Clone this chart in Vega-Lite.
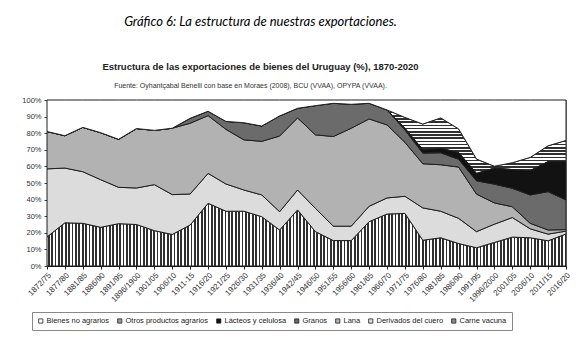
{
  "$schema": "https://vega.github.io/schema/vega-lite/v6.json",
  "width": 519,
  "height": 166,
  "autosize": {"type": "none"},
  "padding": {"left": 47, "top": 100, "right": 13, "bottom": 88},
  "background": "white",
  "config": {
    "view": {"stroke": "#8c8c8c", "strokeWidth": 1},
    "font": "Liberation Sans"
  },
  "title": {
    "text": "Gráfico 6: La estructura de nuestras exportaciones.",
    "subtitle": "Estructura de las exportaciones de bienes del Uruguay (%), 1870-2020",
    "font": "Lato",
    "fontStyle": "italic",
    "fontWeight": "normal",
    "fontSize": 13,
    "color": "#000000",
    "subtitleFont": "Liberation Sans",
    "subtitleFontSize": 9.5,
    "subtitleFontWeight": "bold",
    "subtitleColor": "#222222",
    "subtitlePadding": 33,
    "anchor": "middle",
    "frame": "group",
    "dx": -46,
    "offset": 10
  },
  "data": {
    "values": [
      {"p": "1872/75", "s": "Carne vacuna", "v": 17.5}, {"p": "1872/75", "s": "Derivados del cuero", "v": 41}, {"p": "1872/75", "s": "Lana", "v": 22.5}, {"p": "1872/75", "s": "Granos", "v": 0}, {"p": "1872/75", "s": "Lácteos y celulosa", "v": 0}, {"p": "1872/75", "s": "Otros productos agrarios", "v": 0}, {"p": "1872/75", "s": "Bienes no agrarios", "v": 19},
      {"p": "1877/80", "s": "Carne vacuna", "v": 26}, {"p": "1877/80", "s": "Derivados del cuero", "v": 33}, {"p": "1877/80", "s": "Lana", "v": 19.5}, {"p": "1877/80", "s": "Granos", "v": 0}, {"p": "1877/80", "s": "Lácteos y celulosa", "v": 0}, {"p": "1877/80", "s": "Otros productos agrarios", "v": 0}, {"p": "1877/80", "s": "Bienes no agrarios", "v": 21.5},
      {"p": "1881/85", "s": "Carne vacuna", "v": 25.7}, {"p": "1881/85", "s": "Derivados del cuero", "v": 31.1}, {"p": "1881/85", "s": "Lana", "v": 26.7}, {"p": "1881/85", "s": "Granos", "v": 0}, {"p": "1881/85", "s": "Lácteos y celulosa", "v": 0}, {"p": "1881/85", "s": "Otros productos agrarios", "v": 0}, {"p": "1881/85", "s": "Bienes no agrarios", "v": 16.5},
      {"p": "1886/90", "s": "Carne vacuna", "v": 23.3}, {"p": "1886/90", "s": "Derivados del cuero", "v": 28.7}, {"p": "1886/90", "s": "Lana", "v": 28.3}, {"p": "1886/90", "s": "Granos", "v": 0}, {"p": "1886/90", "s": "Lácteos y celulosa", "v": 0}, {"p": "1886/90", "s": "Otros productos agrarios", "v": 0}, {"p": "1886/90", "s": "Bienes no agrarios", "v": 19.7},
      {"p": "1891/95", "s": "Carne vacuna", "v": 25.5}, {"p": "1891/95", "s": "Derivados del cuero", "v": 21.9}, {"p": "1891/95", "s": "Lana", "v": 28.9}, {"p": "1891/95", "s": "Granos", "v": 0}, {"p": "1891/95", "s": "Lácteos y celulosa", "v": 0}, {"p": "1891/95", "s": "Otros productos agrarios", "v": 0}, {"p": "1891/95", "s": "Bienes no agrarios", "v": 23.7},
      {"p": "1896/1900", "s": "Carne vacuna", "v": 25}, {"p": "1896/1900", "s": "Derivados del cuero", "v": 22}, {"p": "1896/1900", "s": "Lana", "v": 35.8}, {"p": "1896/1900", "s": "Granos", "v": 0}, {"p": "1896/1900", "s": "Lácteos y celulosa", "v": 0}, {"p": "1896/1900", "s": "Otros productos agrarios", "v": 0}, {"p": "1896/1900", "s": "Bienes no agrarios", "v": 17.2},
      {"p": "1901/05", "s": "Carne vacuna", "v": 21.3}, {"p": "1901/05", "s": "Derivados del cuero", "v": 27.7}, {"p": "1901/05", "s": "Lana", "v": 32.7}, {"p": "1901/05", "s": "Granos", "v": 0}, {"p": "1901/05", "s": "Lácteos y celulosa", "v": 0}, {"p": "1901/05", "s": "Otros productos agrarios", "v": 0}, {"p": "1901/05", "s": "Bienes no agrarios", "v": 18.3},
      {"p": "1906/10", "s": "Carne vacuna", "v": 19}, {"p": "1906/10", "s": "Derivados del cuero", "v": 24}, {"p": "1906/10", "s": "Lana", "v": 40}, {"p": "1906/10", "s": "Granos", "v": 0}, {"p": "1906/10", "s": "Lácteos y celulosa", "v": 0}, {"p": "1906/10", "s": "Otros productos agrarios", "v": 0}, {"p": "1906/10", "s": "Bienes no agrarios", "v": 17},
      {"p": "1911-15", "s": "Carne vacuna", "v": 24.7}, {"p": "1911-15", "s": "Derivados del cuero", "v": 18.7}, {"p": "1911-15", "s": "Lana", "v": 42.6}, {"p": "1911-15", "s": "Granos", "v": 3}, {"p": "1911-15", "s": "Lácteos y celulosa", "v": 0}, {"p": "1911-15", "s": "Otros productos agrarios", "v": 0}, {"p": "1911-15", "s": "Bienes no agrarios", "v": 11},
      {"p": "1916/20", "s": "Carne vacuna", "v": 37.8}, {"p": "1916/20", "s": "Derivados del cuero", "v": 18}, {"p": "1916/20", "s": "Lana", "v": 34.8}, {"p": "1916/20", "s": "Granos", "v": 2.6}, {"p": "1916/20", "s": "Lácteos y celulosa", "v": 0}, {"p": "1916/20", "s": "Otros productos agrarios", "v": 0}, {"p": "1916/20", "s": "Bienes no agrarios", "v": 6.8},
      {"p": "1921/25", "s": "Carne vacuna", "v": 33}, {"p": "1921/25", "s": "Derivados del cuero", "v": 16.4}, {"p": "1921/25", "s": "Lana", "v": 32.9}, {"p": "1921/25", "s": "Granos", "v": 4.8}, {"p": "1921/25", "s": "Lácteos y celulosa", "v": 0}, {"p": "1921/25", "s": "Otros productos agrarios", "v": 0}, {"p": "1921/25", "s": "Bienes no agrarios", "v": 12.9},
      {"p": "1926/30", "s": "Carne vacuna", "v": 33}, {"p": "1926/30", "s": "Derivados del cuero", "v": 12.8}, {"p": "1926/30", "s": "Lana", "v": 30.2}, {"p": "1926/30", "s": "Granos", "v": 10.3}, {"p": "1926/30", "s": "Lácteos y celulosa", "v": 0}, {"p": "1926/30", "s": "Otros productos agrarios", "v": 0}, {"p": "1926/30", "s": "Bienes no agrarios", "v": 13.7},
      {"p": "1931/35", "s": "Carne vacuna", "v": 29.7}, {"p": "1931/35", "s": "Derivados del cuero", "v": 13.1}, {"p": "1931/35", "s": "Lana", "v": 32.3}, {"p": "1931/35", "s": "Granos", "v": 9.2}, {"p": "1931/35", "s": "Lácteos y celulosa", "v": 0}, {"p": "1931/35", "s": "Otros productos agrarios", "v": 0}, {"p": "1931/35", "s": "Bienes no agrarios", "v": 15.7},
      {"p": "1936/40", "s": "Carne vacuna", "v": 21.7}, {"p": "1936/40", "s": "Derivados del cuero", "v": 11}, {"p": "1936/40", "s": "Lana", "v": 45.6}, {"p": "1936/40", "s": "Granos", "v": 12.1}, {"p": "1936/40", "s": "Lácteos y celulosa", "v": 0}, {"p": "1936/40", "s": "Otros productos agrarios", "v": 0}, {"p": "1936/40", "s": "Bienes no agrarios", "v": 9.6},
      {"p": "1942/45", "s": "Carne vacuna", "v": 33.8}, {"p": "1942/45", "s": "Derivados del cuero", "v": 12}, {"p": "1942/45", "s": "Lana", "v": 43.4}, {"p": "1942/45", "s": "Granos", "v": 5.8}, {"p": "1942/45", "s": "Lácteos y celulosa", "v": 0}, {"p": "1942/45", "s": "Otros productos agrarios", "v": 0}, {"p": "1942/45", "s": "Bienes no agrarios", "v": 5},
      {"p": "1946/50", "s": "Carne vacuna", "v": 20.7}, {"p": "1946/50", "s": "Derivados del cuero", "v": 14}, {"p": "1946/50", "s": "Lana", "v": 44.3}, {"p": "1946/50", "s": "Granos", "v": 17.6}, {"p": "1946/50", "s": "Lácteos y celulosa", "v": 0}, {"p": "1946/50", "s": "Otros productos agrarios", "v": 0}, {"p": "1946/50", "s": "Bienes no agrarios", "v": 3.4},
      {"p": "1951/55", "s": "Carne vacuna", "v": 15.3}, {"p": "1951/55", "s": "Derivados del cuero", "v": 8.7}, {"p": "1951/55", "s": "Lana", "v": 54}, {"p": "1951/55", "s": "Granos", "v": 20}, {"p": "1951/55", "s": "Lácteos y celulosa", "v": 0}, {"p": "1951/55", "s": "Otros productos agrarios", "v": 0}, {"p": "1951/55", "s": "Bienes no agrarios", "v": 2},
      {"p": "1956/60", "s": "Carne vacuna", "v": 15.3}, {"p": "1956/60", "s": "Derivados del cuero", "v": 8.7}, {"p": "1956/60", "s": "Lana", "v": 59}, {"p": "1956/60", "s": "Granos", "v": 14.4}, {"p": "1956/60", "s": "Lácteos y celulosa", "v": 0}, {"p": "1956/60", "s": "Otros productos agrarios", "v": 0}, {"p": "1956/60", "s": "Bienes no agrarios", "v": 2.6},
      {"p": "1961/65", "s": "Carne vacuna", "v": 26.7}, {"p": "1961/65", "s": "Derivados del cuero", "v": 9.3}, {"p": "1961/65", "s": "Lana", "v": 52.6}, {"p": "1961/65", "s": "Granos", "v": 9.4}, {"p": "1961/65", "s": "Lácteos y celulosa", "v": 0}, {"p": "1961/65", "s": "Otros productos agrarios", "v": 0}, {"p": "1961/65", "s": "Bienes no agrarios", "v": 2},
      {"p": "1966/70", "s": "Carne vacuna", "v": 31.3}, {"p": "1966/70", "s": "Derivados del cuero", "v": 9.7}, {"p": "1966/70", "s": "Lana", "v": 44}, {"p": "1966/70", "s": "Granos", "v": 9}, {"p": "1966/70", "s": "Lácteos y celulosa", "v": 0}, {"p": "1966/70", "s": "Otros productos agrarios", "v": 0}, {"p": "1966/70", "s": "Bienes no agrarios", "v": 6},
      {"p": "1971/75", "s": "Carne vacuna", "v": 31.7}, {"p": "1971/75", "s": "Derivados del cuero", "v": 10.3}, {"p": "1971/75", "s": "Lana", "v": 32.5}, {"p": "1971/75", "s": "Granos", "v": 7.5}, {"p": "1971/75", "s": "Lácteos y celulosa", "v": 1}, {"p": "1971/75", "s": "Otros productos agrarios", "v": 6.5}, {"p": "1971/75", "s": "Bienes no agrarios", "v": 10.5},
      {"p": "1976/80", "s": "Carne vacuna", "v": 15.5}, {"p": "1976/80", "s": "Derivados del cuero", "v": 19.5}, {"p": "1976/80", "s": "Lana", "v": 26.6}, {"p": "1976/80", "s": "Granos", "v": 6.4}, {"p": "1976/80", "s": "Lácteos y celulosa", "v": 2}, {"p": "1976/80", "s": "Otros productos agrarios", "v": 15.5}, {"p": "1976/80", "s": "Bienes no agrarios", "v": 14.5},
      {"p": "1981/85", "s": "Carne vacuna", "v": 17}, {"p": "1981/85", "s": "Derivados del cuero", "v": 16}, {"p": "1981/85", "s": "Lana", "v": 28}, {"p": "1981/85", "s": "Granos", "v": 7.2}, {"p": "1981/85", "s": "Lácteos y celulosa", "v": 2.7}, {"p": "1981/85", "s": "Otros productos agrarios", "v": 18.3}, {"p": "1981/85", "s": "Bienes no agrarios", "v": 10.8},
      {"p": "1986/90", "s": "Carne vacuna", "v": 13.5}, {"p": "1986/90", "s": "Derivados del cuero", "v": 15.2}, {"p": "1986/90", "s": "Lana", "v": 30.9}, {"p": "1986/90", "s": "Granos", "v": 4.7}, {"p": "1986/90", "s": "Lácteos y celulosa", "v": 4.1}, {"p": "1986/90", "s": "Otros productos agrarios", "v": 14.2}, {"p": "1986/90", "s": "Bienes no agrarios", "v": 17.4},
      {"p": "1991/95", "s": "Carne vacuna", "v": 11}, {"p": "1991/95", "s": "Derivados del cuero", "v": 9.7}, {"p": "1991/95", "s": "Lana", "v": 22.6}, {"p": "1991/95", "s": "Granos", "v": 8}, {"p": "1991/95", "s": "Lácteos y celulosa", "v": 4.5}, {"p": "1991/95", "s": "Otros productos agrarios", "v": 8.6}, {"p": "1991/95", "s": "Bienes no agrarios", "v": 35.6},
      {"p": "1996/2000", "s": "Carne vacuna", "v": 14.2}, {"p": "1996/2000", "s": "Derivados del cuero", "v": 11}, {"p": "1996/2000", "s": "Lana", "v": 12.8}, {"p": "1996/2000", "s": "Granos", "v": 11.3}, {"p": "1996/2000", "s": "Lácteos y celulosa", "v": 9.7}, {"p": "1996/2000", "s": "Otros productos agrarios", "v": 1.1}, {"p": "1996/2000", "s": "Bienes no agrarios", "v": 39.9},
      {"p": "2001/05", "s": "Carne vacuna", "v": 17.4}, {"p": "2001/05", "s": "Derivados del cuero", "v": 11.8}, {"p": "2001/05", "s": "Lana", "v": 6.5}, {"p": "2001/05", "s": "Granos", "v": 11.1}, {"p": "2001/05", "s": "Lácteos y celulosa", "v": 11.3}, {"p": "2001/05", "s": "Otros productos agrarios", "v": 4.1}, {"p": "2001/05", "s": "Bienes no agrarios", "v": 37.8},
      {"p": "2006/10", "s": "Carne vacuna", "v": 17}, {"p": "2006/10", "s": "Derivados del cuero", "v": 5.4}, {"p": "2006/10", "s": "Lana", "v": 3.3}, {"p": "2006/10", "s": "Granos", "v": 17.1}, {"p": "2006/10", "s": "Lácteos y celulosa", "v": 14.7}, {"p": "2006/10", "s": "Otros productos agrarios", "v": 7.9}, {"p": "2006/10", "s": "Bienes no agrarios", "v": 34.6},
      {"p": "2011/15", "s": "Carne vacuna", "v": 15.2}, {"p": "2011/15", "s": "Derivados del cuero", "v": 4}, {"p": "2011/15", "s": "Lana", "v": 2.5}, {"p": "2011/15", "s": "Granos", "v": 23.1}, {"p": "2011/15", "s": "Lácteos y celulosa", "v": 18.1}, {"p": "2011/15", "s": "Otros productos agrarios", "v": 9.5}, {"p": "2011/15", "s": "Bienes no agrarios", "v": 27.6},
      {"p": "2016/20", "s": "Carne vacuna", "v": 19.3}, {"p": "2016/20", "s": "Derivados del cuero", "v": 1.7}, {"p": "2016/20", "s": "Lana", "v": 0.9}, {"p": "2016/20", "s": "Granos", "v": 17.9}, {"p": "2016/20", "s": "Lácteos y celulosa", "v": 23.1}, {"p": "2016/20", "s": "Otros productos agrarios", "v": 12.7}, {"p": "2016/20", "s": "Bienes no agrarios", "v": 24.4}
    ]
  },
  "transform": [
    {"calculate": "indexof(['Carne vacuna','Derivados del cuero','Lana','Granos','Lácteos y celulosa','Otros productos agrarios','Bienes no agrarios'], datum.s)", "as": "k"},
    {"stack": "v", "groupby": ["p"], "sort": [{"field": "k", "order": "ascending"}], "as": ["y0", "y1"]}
  ],
  "layer": [
    {
      "transform": [{"filter": "datum.s === 'Carne vacuna'"}],
      "mark": {"type": "area", "fill": "#ffffff", "stroke": "#1e1e1e", "strokeWidth": 1, "opacity": 1},
      "encoding": {
        "x": {
          "field": "p", "type": "ordinal", "sort": null,
          "scale": {"type": "point", "padding": 0},
          "axis": {
            "title": null, "labelAngle": -45, "labelFont": "Liberation Sans", "labelFontSize": 8, "labelColor": "#333333",
            "labelPadding": 2, "tickSize": 3, "tickColor": "#222222", "domainColor": "#111111",
            "grid": false, "labelOverlap": false
          }
        },
        "y": {
          "field": "y1", "type": "quantitative",
          "scale": {"domain": [0, 100], "nice": false},
          "axis": {
            "title": null, "values": [0, 10, 20, 30, 40, 50, 60, 70, 80, 90, 100],
            "labelExpr": "datum.value + '%'", "labelFont": "Liberation Sans", "labelFontSize": 7.5, "labelColor": "#333333",
            "labelPadding": 3, "tickSize": 3, "tickColor": "#444444", "domainColor": "#666666",
            "grid": false
          }
        },
        "y2": {"field": "y0"}
      }
    },
    {
      "mark": {"type": "rule", "strokeWidth": 68, "strokeDash": [0.9, 2.5], "color": "#303030", "clip": true},
      "encoding": {
        "y": {
          "datum": 20, "type": "quantitative",
          "axis": {
            "title": null, "values": [0, 10, 20, 30, 40, 50, 60, 70, 80, 90, 100],
            "labelExpr": "datum.value + '%'", "labelFont": "Liberation Sans", "labelFontSize": 7.5, "labelColor": "#333333",
            "labelPadding": 3, "tickSize": 3, "tickColor": "#444444", "domainColor": "#666666",
            "grid": false
          }
        }
      }
    },
    {
      "transform": [{"filter": "datum.s === 'Otros productos agrarios'"}],
      "mark": {"type": "area", "fill": "#ffffff", "stroke": "#1e1e1e", "strokeWidth": 1, "opacity": 1},
      "encoding": {
        "x": {"field": "p", "type": "ordinal", "sort": null, "axis": null},
        "y": {
          "field": "y1", "type": "quantitative",
          "axis": {
            "title": null, "values": [0, 10, 20, 30, 40, 50, 60, 70, 80, 90, 100],
            "labelExpr": "datum.value + '%'", "labelFont": "Liberation Sans", "labelFontSize": 7.5, "labelColor": "#333333",
            "labelPadding": 3, "tickSize": 3, "tickColor": "#444444", "domainColor": "#666666",
            "grid": false
          }
        },
        "y2": {"field": "y0"}
      }
    },
    {
      "mark": {"type": "rule", "strokeWidth": 200, "strokeDash": [0.9, 2.3], "color": "#303030", "clip": true},
      "encoding": {
        "x": {"datum": "1991/95", "type": "ordinal", "axis": null},
        "y": {
          "datum": 42, "type": "quantitative",
          "axis": {
            "title": null, "values": [0, 10, 20, 30, 40, 50, 60, 70, 80, 90, 100],
            "labelExpr": "datum.value + '%'", "labelFont": "Liberation Sans", "labelFontSize": 7.5, "labelColor": "#333333",
            "labelPadding": 3, "tickSize": 3, "tickColor": "#444444", "domainColor": "#666666",
            "grid": false
          }
        },
        "y2": {"datum": 100}
      }
    },
    {
      "transform": [{"filter": "datum.s !== 'Carne vacuna' && datum.s !== 'Otros productos agrarios'"}],
      "mark": {"type": "area", "stroke": "#1e1e1e", "strokeWidth": 1, "opacity": 1},
      "encoding": {
        "x": {"field": "p", "type": "ordinal", "sort": null, "axis": null},
        "y": {
          "field": "y1", "type": "quantitative",
          "axis": {
            "title": null, "values": [0, 10, 20, 30, 40, 50, 60, 70, 80, 90, 100],
            "labelExpr": "datum.value + '%'", "labelFont": "Liberation Sans", "labelFontSize": 7.5, "labelColor": "#333333",
            "labelPadding": 3, "tickSize": 3, "tickColor": "#444444", "domainColor": "#666666",
            "grid": false
          }
        },
        "y2": {"field": "y0"},
        "color": {
          "field": "s", "type": "nominal",
          "scale": {
            "domain": ["Bienes no agrarios", "Otros productos agrarios", "Lácteos y celulosa", "Granos", "Lana", "Derivados del cuero", "Carne vacuna"],
            "range": ["#ffffff", "#9a9a9a", "#121212", "#6b6b6b", "#b2b2b2", "#dcdcdc", "#8a8a8a"]
          },
          "legend": {
            "orient": "none", "legendX": -15, "legendY": 212, "direction": "horizontal",
            "title": null, "symbolType": "square", "symbolSize": 18, "symbolStrokeColor": "#222222",
            "symbolStrokeWidth": 0.8, "symbolOpacity": 1, "labelFont": "Liberation Sans", "labelFontSize": 7.5, "labelColor": "#222222",
            "labelLimit": 200, "columnPadding": 6, "strokeColor": "#888888", "padding": 5,
            "labelOffset": 2
          }
        }
      }
    },
    {
      "mark": {"type": "rule", "opacity": 0},
      "encoding": {
        "x": {
          "field": "p", "type": "ordinal", "sort": null,
          "axis": {
            "orient": "top", "title": "Fuente: Oyhantçabal Benelli con base en Moraes (2008), BCU (VVAA), OPYPA (VVAA).",
            "labels": false, "ticks": false, "domain": false, "grid": false,
            "titleFont": "Liberation Sans", "titleFontSize": 7, "titleFontWeight": "normal", "titleColor": "#333333",
            "titleX": 203, "titleY": -13, "titleBaseline": "alphabetic", "titleAlign": "center"
          }
        }
      }
    }
  ],
  "resolve": {"axis": {"x": "independent"}}
}
